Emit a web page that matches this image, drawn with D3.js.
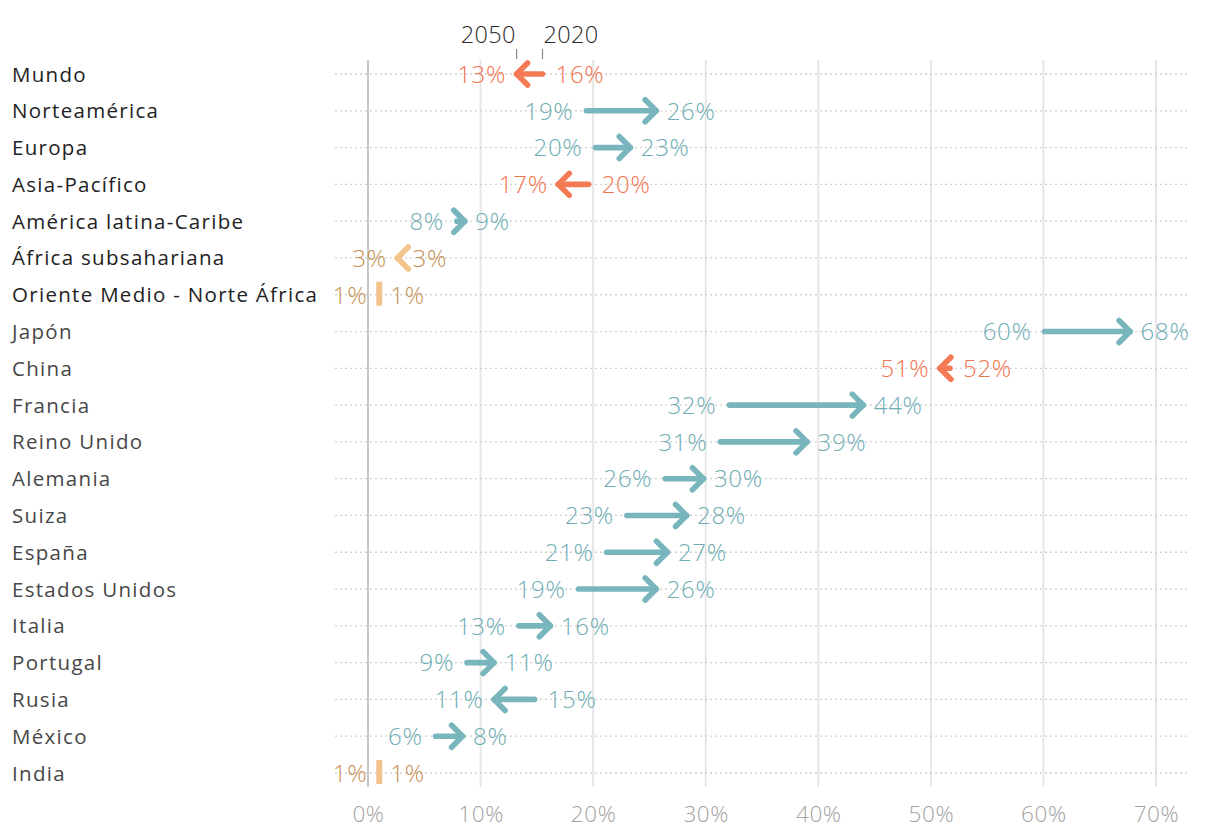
<!DOCTYPE html>
<html>
<head>
<meta charset="utf-8">
<script src="https://cdn.jsdelivr.net/npm/d3@7"></script>
<style>
  html, body { margin: 0; padding: 0; background: #fff; }
  svg { display: block; font-family: "Open Sans", "Noto Sans", sans-serif; }
</style>
</head>
<body>
<svg id="chart" width="1220" height="836"></svg>
<script>
// ---- Data ----
const categories = ["Mundo", "Norteamérica", "Europa", "Asia-Pacífico", "América latina-Caribe",
  "África subsahariana", "Oriente Medio - Norte África", "Japón", "China", "Francia",
  "Reino Unido", "Alemania", "Suiza", "España", "Estados Unidos", "Italia", "Portugal",
  "Rusia", "México", "India"];
const valores2020 = [15.5, 19.4, 20.2, 19.6, 7.9, 2.8, 1.0, 60.1, 51.7, 32.1,
  31.3, 26.4, 23.0, 21.2, 18.7, 13.4, 8.8, 14.8, 6.0, 1.0];
const valores2050 = [13.2, 25.6, 23.3, 16.9, 8.6, 2.6, 1.0, 67.7, 50.8, 44.0,
  39.0, 29.8, 28.3, 26.6, 25.6, 16.2, 11.2, 11.2, 8.4, 1.0];
// grupo de color del original: "a" (verde azulado), "b" (naranja), "c" (arena)
const grupo = ["b", "a", "a", "b", "a", "c", "c", "a", "b", "a",
  "a", "a", "a", "a", "a", "a", "a", "a", "a", "c"];
// nivel: región o país
const nivel = ["region", "region", "region", "region", "region", "region", "region",
  "pais", "pais", "pais", "pais", "pais", "pais", "pais", "pais", "pais", "pais", "pais", "pais", "pais"];
const xTicks = [0, 10, 20, 30, 40, 50, 60, 70];
const serieLabels = ["2050", "2020"];

// ---- Setup ----
const FONT = "'Open Sans', 'Noto Sans', sans-serif";
const svg = d3.select("#chart");
const x = d3.scaleLinear().domain([0, 70]).range([368, 1156]);
const y = d3.scalePoint().domain(categories).range([74, 773]);

const markColor = d3.scaleOrdinal().domain(["a", "b", "c"]).range(["#78b5bc", "#f47a55", "#f1c48b"]);
const textColor = d3.scaleOrdinal().domain(["a", "b", "c"]).range(["#6fadb4", "#f3734e", "#c59152"]);
const fmt = v => d3.format(".0f")(v) + "%";
const VFS = 24, VW = 300, VLS = 0.7;

const data = categories.map((c, i) => ({
  name: c, v0: valores2020[i], v1: valores2050[i], g: grupo[i], nivel: nivel[i]
}));

// vertical gridlines
const gx = svg.append("g");
gx.selectAll("line").data(xTicks).join("line")
  .attr("x1", d => x(d)).attr("x2", d => x(d))
  .attr("y1", 60).attr("y2", 787)
  .attr("stroke", d => d === 0 ? "#c6c6c6" : "#e6e6e6")
  .attr("stroke-width", 2);

// x-axis labels via d3 axis
const axis = d3.axisBottom(x).tickValues(xTicks).tickFormat(d => d + "%").tickSize(0).tickPadding(0);
const axG = svg.append("g").attr("transform", "translate(0,806)").call(axis);
axG.select(".domain").remove();
axG.selectAll("text")
  .attr("font-family", FONT).attr("font-weight", VW)
  .attr("font-size", 22.5).attr("letter-spacing", 0.6)
  .attr("fill", "#a2a2a2").attr("dy", "0.7em");

// horizontal dotted lines
svg.append("g").selectAll("line").data(categories).join("line")
  .attr("x1", 335).attr("x2", 1190)
  .attr("y1", d => y(d)).attr("y2", d => y(d))
  .attr("stroke", "#cfcfcf").attr("stroke-width", 1.3)
  .attr("stroke-dasharray", "2,3");

// row labels
svg.append("g").selectAll("text").data(data).join("text")
  .attr("x", 12).attr("y", d => y(d.name) + 7.5)
  .attr("font-size", 20.5)
  .attr("letter-spacing", 1.3)
  .attr("font-weight", d => d.nivel === "region" ? 500 : 400)
  .attr("fill", d => d.nivel === "region" ? "#222" : "#474747")
  .text(d => d.name);

// marks
const rows = svg.append("g").selectAll("g").data(data).join("g")
  .attr("transform", d => `translate(0,${y(d.name)})`);

rows.each(function(d) {
  const g = d3.select(this);
  const col = markColor(d.g);
  const tcol = textColor(d.g);
  const x0 = x(d.v0), x1 = x(d.v1);
  const dir = Math.sign(d.v1 - d.v0);
  const lab = (xx, anchor, txt) => g.append("text").attr("x", xx).attr("y", 8.8)
    .attr("text-anchor", anchor).attr("font-size", VFS).attr("font-weight", VW)
    .attr("letter-spacing", VLS)
    .attr("fill", tcol).text(txt);
  if (dir === 0) {
    g.append("rect").attr("x", x0 - 3).attr("y", -13).attr("width", 6).attr("height", 24).attr("fill", col);
    lab(x0 - 12, "end", fmt(d.v1));
    lab(x0 + 11, "start", fmt(d.v0));
    return;
  }
  g.append("line").attr("x1", x0).attr("x2", x1).attr("y1", 0).attr("y2", 0)
    .attr("stroke", col).attr("stroke-width", 5.6).attr("stroke-linecap", "round");
  const a = 11;
  g.append("path")
    .attr("d", `M${x1 - dir * a},${-a} L${x1},0 L${x1 - dir * a},${a}`)
    .attr("fill", "none").attr("stroke", col).attr("stroke-width", 5.6)
    .attr("stroke-linecap", "round").attr("stroke-linejoin", "round");
  lab(x0 - dir * 13, dir > 0 ? "end" : "start", fmt(d.v0));   // 2020
  lab(x1 + dir * 10.5, dir > 0 ? "start" : "end", fmt(d.v1)); // 2050
});

// header legend (ticks at the first row's ends)
const first = data[0];
const hx = [x(first.v1), x(first.v0)];
const hg = svg.append("g");
hg.selectAll("line").data(hx).join("line")
  .attr("x1", d => d).attr("x2", d => d).attr("y1", 49).attr("y2", 59)
  .attr("stroke", "#888").attr("stroke-width", 1.2);
hg.selectAll("text").data(serieLabels).join("text")
  .attr("x", (d, i) => i === 0 ? hx[0] - 1 : hx[1] + 1)
  .attr("y", 43)
  .attr("text-anchor", (d, i) => i === 0 ? "end" : "start")
  .attr("font-size", 23.5).attr("font-weight", VW).attr("letter-spacing", 0.3)
  .attr("fill", "#2a2a2a")
  .text(d => d);
</script>
</body>
</html>
